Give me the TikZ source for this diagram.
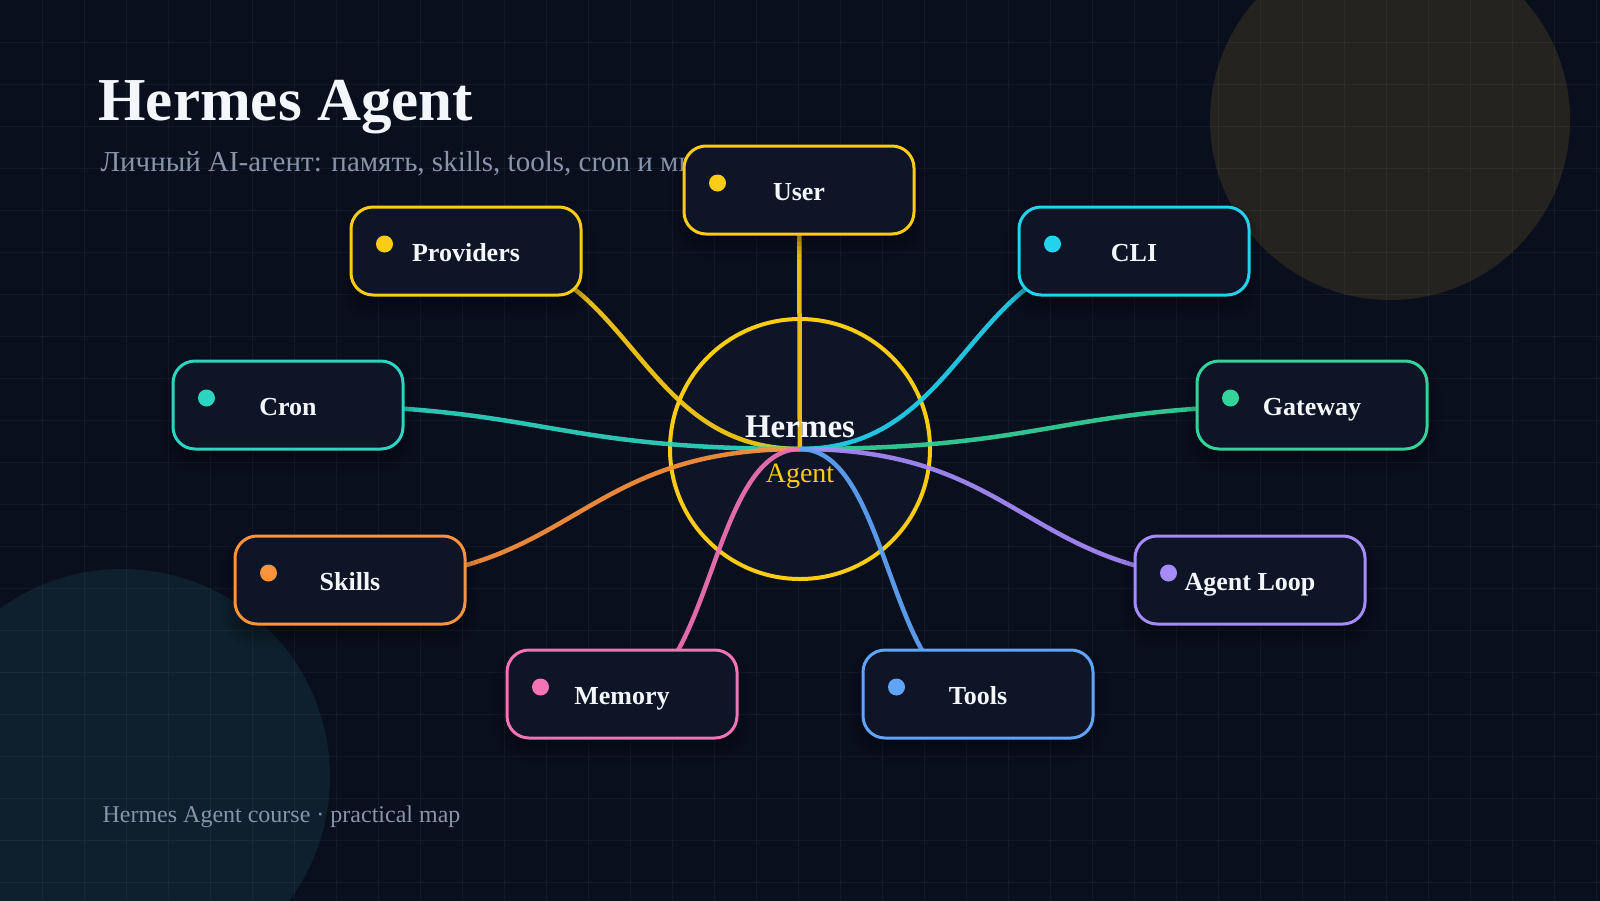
\documentclass[tikz,border=0pt]{standalone}
\usepackage{fontspec}
\setmainfont{Liberation Serif}
\usepackage{tikz}
\usetikzlibrary{calc,shadows.blur}
\definecolor{fondNuit}{RGB}{10,15,30}
\definecolor{fondCarte}{RGB}{13,21,38}
\definecolor{grisTexte}{RGB}{136,148,170}
\definecolor{blancCasse}{RGB}{243,246,250}
\definecolor{halo}{RGB}{36,35,31}
\definecolor{haloBleu}{RGB}{14,31,45}
\definecolor{jauneSoleil}{RGB}{250,204,21}
\definecolor{cyanVif}{RGB}{34,211,238}
\definecolor{turquoise}{RGB}{45,212,191}
\definecolor{vertMenthe}{RGB}{52,211,153}
\definecolor{orangeVif}{RGB}{251,146,60}
\definecolor{violetDoux}{RGB}{167,139,250}
\definecolor{roseVif}{RGB}{244,114,182}
\definecolor{bleuCiel}{RGB}{96,165,250}
\pgfdeclarelayer{fond}
\pgfdeclarelayer{liens}
\pgfsetlayers{fond,liens,main}

\begin{document}
\begin{tikzpicture}[x=1pt, y=-1pt,
  carte/.style={draw=#1, fill=fondCarte, line width=3pt, rounded corners=22pt,
                minimum width=230pt, minimum height=88pt, text=blancCasse,
                text height=26pt, text depth=6pt,
                font=\fontsize{26}{30}\selectfont\bfseries,
                blur shadow={shadow xshift=0pt, shadow yshift=-10pt,
                             shadow blur radius=14pt, shadow opacity=45}},
  lien/.style={draw=#1, line width=4.5pt, draw opacity=0.92},
  grille/.style={white, opacity=0.045, line width=1pt}]

  \useasboundingbox (0,0) rectangle (1600,900);

  % titres
  \node[anchor=base west, text=blancCasse, font=\fontsize{61}{70}\selectfont\bfseries]
    (titre) at (95,120) {Hermes Agent};
  \node[anchor=base west, text=grisTexte, font=\fontsize{29}{33}\selectfont]
    (soustitre) at (97,171) {Личный AI-агент: память, skills, tools, cron и многое};
  \node[anchor=base west, text=grisTexte, font=\fontsize{24}{28}\selectfont]
    (pied) at (99,822) {Hermes Agent course · practical map};

  % cartes
  \node[carte=jauneSoleil] (user)   at (799,190) {User};
  \node[carte=jauneSoleil] (prov)   at (466,251) {Providers};
  \node[carte=cyanVif]     (cli)    at (1134,251) {CLI};
  \node[carte=turquoise]   (cron)   at (288,405) {Cron};
  \node[carte=vertMenthe]  (gate)   at (1312,405) {Gateway};
  \node[carte=orangeVif]   (skills) at (350,580) {Skills};
  \node[carte=violetDoux]  (loop)   at (1250,580) {Agent Loop};
  \node[carte=roseVif]     (memory) at (622,694) {Memory};
  \node[carte=bleuCiel]    (tools)  at (978,694) {Tools};

  % fond, halos et grille
  \begin{pgfonlayer}{fond}
    \clip (0,0) rectangle (1600,900);
    \fill[fondNuit] (-5,-5) rectangle (1605,905);
    \fill[halo] (1390,120) circle[radius=180pt];
    \fill[haloBleu] (122,777) circle[radius=208pt];
    \foreach \gx in {42,84,...,1596}
      \draw[grille] (\gx,0) -- (\gx,900);
    \foreach \gy in {42,84,...,882}
      \draw[grille] (0,\gy) -- (1600,\gy);
  \end{pgfonlayer}

  % moyeu
  \begin{pgfonlayer}{liens}
    \node[circle, draw=jauneSoleil, fill=fondCarte, line width=4pt, minimum size=260pt,
          inner sep=0pt] (hub) at (800,449) {};
  \end{pgfonlayer}
  \node[anchor=base, text=blancCasse, font=\fontsize{33}{38}\selectfont\bfseries]
    (hubT) at (800,437) {Hermes};
  \node[anchor=base, text=jauneSoleil, font=\fontsize{28}{32}\selectfont]
    (hubS) at (800,482) {Agent};

  % pastilles et liens
  \foreach \n/\c in {user/jauneSoleil, prov/jauneSoleil, cli/cyanVif, cron/turquoise,
                     gate/vertMenthe, skills/orangeVif, loop/violetDoux,
                     memory/roseVif, tools/bleuCiel} {
    \fill[\c] ($(\n.west)+(35,-7)$) circle[radius=8.5pt];
    \begin{pgfonlayer}{liens}
      \coordinate (mi) at ($(\n.center)!.5!(hub.center)$);
      \draw[lien=\c] (\n.center) .. controls (mi |- \n.center) and (mi |- hub.center) .. (hub.center);
    \end{pgfonlayer}
  }
\end{tikzpicture}
\end{document}
